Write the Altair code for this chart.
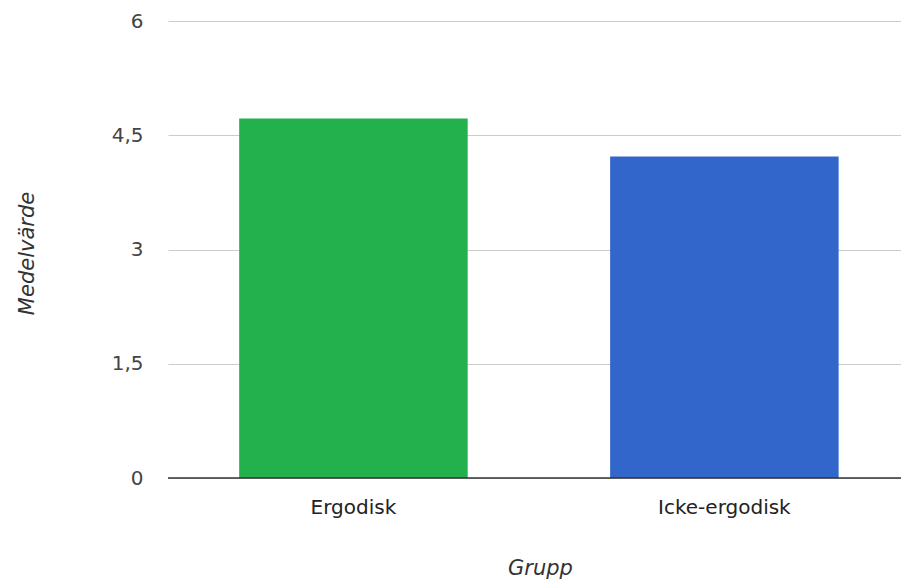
import altair as alt
import pandas as pd

groups = ["Ergodisk", "Icke-ergodisk"]
means = [4.72, 4.22]
colors = ["#23b14d", "#3266cb"]
y_ticks = [0, 1.5, 3, 4.5, 6]

df = pd.DataFrame({"Grupp": groups, "Medelvärde": means})
base_df = pd.DataFrame({"Medelvärde": [0]})

FONT = "DejaVu Sans"

bars = alt.Chart(df).mark_bar().encode(
    x=alt.X(
        "Grupp:N",
        sort=groups,
        scale=alt.Scale(paddingInner=0.384, paddingOuter=0.18, align=0.533),
        axis=alt.Axis(
            title="Grupp",
            labelAngle=0,
            ticks=False,
            tickSize=0,
            domain=False,
            labelPadding=19,
            labelFont=FONT,
            labelFontSize=20,
            labelColor="#222222",
            titleFont=FONT,
            titleFontSize=21,
            titleFontStyle="italic",
            titleFontWeight="normal",
            titleColor="#333333",
            titleX=372,
            titleY=90,
            titleAlign="center",
            titleBaseline="middle",
        ),
    ),
    y=alt.Y(
        "Medelvärde:Q",
        scale=alt.Scale(domain=[0, 6], nice=False),
        axis=alt.Axis(
            title="Medelvärde",
            values=y_ticks,
            labelExpr="replace(format(datum.value, '~g'), '.', ',')",
            ticks=False,
            tickSize=0,
            domain=False,
            grid=True,
            gridColor="#cccccc",
            gridWidth=1,
            labelPadding=25,
            labelFont=FONT,
            labelFontSize=20,
            labelColor="#444444",
            titleFont=FONT,
            titleFontSize=21,
            titleFontStyle="italic",
            titleFontWeight="normal",
            titleColor="#333333",
            titleX=-141,
            titleY=232,
            titleAngle=-90,
            titleAlign="center",
            titleBaseline="middle",
        ),
    ),
    color=alt.Color("Grupp:N", scale=alt.Scale(domain=groups, range=colors), legend=None),
)

baseline = alt.Chart(base_df).mark_rule(color="#333333", strokeWidth=1.5).encode(
    y=alt.Y("Medelvärde:Q")
)

chart = (
    alt.layer(bars, baseline)
    .properties(
        width=733,
        height=457,
        autosize=alt.AutoSizeParams(type="none"),
        padding={"left": 168, "top": 21, "right": 0, "bottom": 103},
        background="white",
    )
    .configure_view(stroke=None)
)

chart.save("out.html", embed_options={"renderer": "svg", "actions": False})
